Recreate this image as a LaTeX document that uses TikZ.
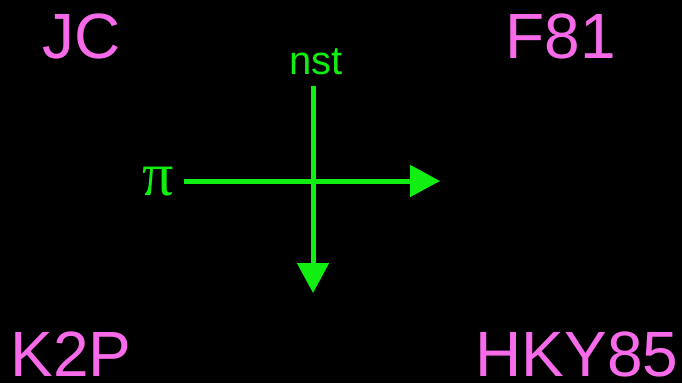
\documentclass[tikz,border=0pt]{standalone}
\usepackage{fontspec}
\setmainfont{Liberation Sans}
\newfontfamily\pifont{Liberation Serif}
\definecolor{mdlpink}{HTML}{F76BEB}
\definecolor{mdlgreen}{HTML}{11EE11}
\usetikzlibrary{arrows.meta}
\tikzset{
  mdlname/.style={text=mdlpink,inner sep=0pt,anchor=base,font=\fontsize{64}{64}\selectfont},
  mdlaxis/.style={text=mdlgreen,inner sep=0pt},
  mdlarrow/.style={draw=mdlgreen,line width=5pt,-{Triangle[length=30pt,width=31pt]}},
}
\begin{document}
\begin{tikzpicture}[x=1pt,y=-1pt]
\fill[black] (0,0) rectangle (682,383);
\useasboundingbox (0,0) rectangle (682,383);
% model names
\node[mdlname] (jc) at (82,58) {JC};
\node[mdlname] (f81) at (561,58) {F81};
\node[mdlname] (k2p) at (71,376) {K2P};
\node[mdlname] (hky) at (577,376) {HKY85};
% axes
\node[mdlaxis,anchor=east,font=\pifont\fontsize{62}{62}\selectfont] (pi) at (174,182) {π};
\node[mdlaxis,anchor=south,font=\fontsize{40}{40}\selectfont] (nst) at (316,75) {nst};
\coordinate (tiph) at (440,181);
\coordinate (tipv) at (313,293);
\draw[mdlarrow,shorten <=10pt] (pi.east |- tiph) -- (tiph);
\draw[mdlarrow,shorten <=11pt] (nst.south -| tipv) -- (tipv);
\end{tikzpicture}
\end{document}
